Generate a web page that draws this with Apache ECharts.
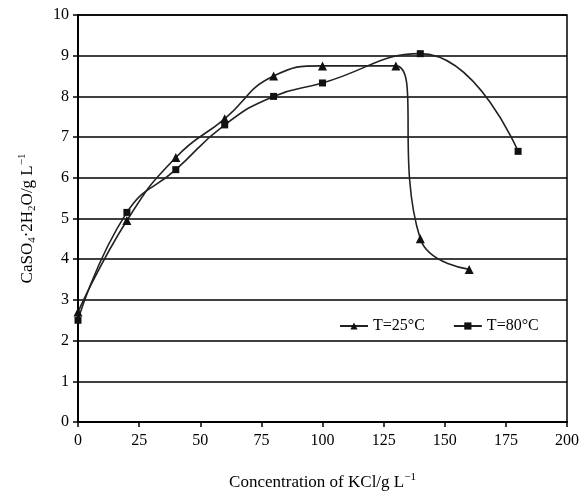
<!DOCTYPE html>
<html><head><meta charset="utf-8">
<script src="https://cdn.jsdelivr.net/npm/echarts@6/dist/echarts.min.js"></script>
<style>html,body{margin:0;padding:0;background:#fff}#c{width:582px;height:497px}</style>
</head><body><div id="c"></div>
<script>
var xTicks = [0, 25, 50, 75, 100, 125, 150, 175, 200];
var kcl25 = [0, 20, 40, 60, 80, 100, 130, 140, 160];
var gyp25 = [2.7, 4.95, 6.5, 7.45, 8.5, 8.75, 8.75, 4.5, 3.75];
var kcl80 = [0, 20, 40, 60, 80, 100, 140, 180];
var gyp80 = [2.5, 5.15, 6.2, 7.3, 8.0, 8.33, 9.05, 6.65];
var seriesNames = ['T=25°C', 'T=80°C'];

function pairs(xs, ys) { return xs.map(function (x, i) { return [x, ys[i]]; }); }
var F = 'Liberation Serif, Times New Roman, serif';
var chart = echarts.init(document.getElementById('c'));
chart.setOption({
  animation: false,
  backgroundColor: '#fff',
  grid: { left: 78, right: 11, top: 15, bottom: 75, show: true, borderColor: '#000', borderWidth: 1.5, containLabel: false },
  legend: {
    left: 334, top: 313, itemWidth: 28, itemHeight: 9, itemGap: 28,
    textStyle: { fontFamily: F, fontSize: 16, color: '#000' },
    data: seriesNames
  },
  xAxis: {
    type: 'value', min: 0, max: 200, interval: 25,
    name: 'Concentration of KCl/g L{sup|−1}', nameLocation: 'middle', nameGap: 50,
    nameTextStyle: { fontFamily: F, fontSize: 17, color: '#000', rich: { sup: { fontFamily: F, fontSize: 11, padding: [0, 0, 10, 0], color: '#000' } } },
    axisLine: { show: true, lineStyle: { color: '#000', width: 2 } },
    axisTick: { show: true, inside: false, length: 5, lineStyle: { color: '#000', width: 1.5 } },
    axisLabel: { fontFamily: F, fontSize: 16, color: '#000', margin: 11 },
    splitLine: { show: false }
  },
  yAxis: {
    type: 'value', min: 0, max: 10, interval: 1,
    name: 'CaSO{sub|4}·2H{sub|2}O/g L{sup|−1}', nameLocation: 'middle', nameGap: 40,
    nameTextStyle: { fontFamily: F, fontSize: 17, color: '#000',
      rich: { sub: { fontFamily: F, fontSize: 11, padding: [10, 0, 0, 0], color: '#000' },
              sup: { fontFamily: F, fontSize: 11, padding: [0, 0, 10, 0], color: '#000' } } },
    axisLine: { show: true, lineStyle: { color: '#000', width: 2 } },
    axisTick: { show: true, inside: false, length: 5, lineStyle: { color: '#000', width: 1.5 } },
    axisLabel: { fontFamily: F, fontSize: 16, color: '#000', margin: 9 },
    splitLine: { show: true, lineStyle: { color: '#000', width: 1.5 } }
  },
  series: [
    { name: seriesNames[0], type: 'line', smooth: 0.5, data: pairs(kcl25, gyp25),
      symbol: 'triangle', symbolSize: 9, itemStyle: { color: '#111' }, lineStyle: { color: '#222', width: 1.6 } },
    { name: seriesNames[1], type: 'line', smooth: 0.5, data: pairs(kcl80, gyp80),
      symbol: 'rect', symbolSize: 7, itemStyle: { color: '#111' }, lineStyle: { color: '#222', width: 1.6 } }
  ]
});
</script></body></html>
